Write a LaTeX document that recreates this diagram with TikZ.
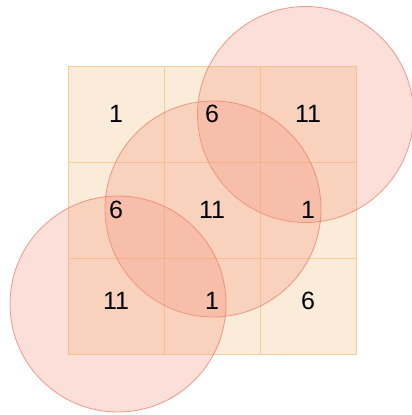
\documentclass[tikz,border=0pt]{standalone}
\usepackage{fontspec}
\setmainfont{Liberation Sans}
\usetikzlibrary{positioning}
\definecolor{gridfill}{RGB}{250, 236, 216}
\definecolor{gridline}{RGB}{246, 206, 150}
\definecolor{ringfill}{RGB}{246, 150, 128}
\definecolor{ringline}{RGB}{240, 130, 110}

\begin{document}
\begin{tikzpicture}[
    x=1pt, y=-1pt,
    cell/.style={rectangle, draw=gridline, fill=gridfill, line width=1pt, minimum size=96pt, inner sep=0pt},
    ring/.style={circle, draw=ringline, fill=ringfill, fill opacity=0.3, draw opacity=0.8, line width=0.8pt, minimum size=216pt, inner sep=0pt},
    num/.style={font=\fontsize{25}{30}\selectfont, text=black}
]
\useasboundingbox (0,0) rectangle (412,415);

% === Cuadricula 3x3 ===
\foreach \r in {1,2,3}
  \foreach \c in {1,2,3}
    \node[cell] (c\r\c) at ({68+96*(\c-1)+48}, {66+96*(\r-1)+48}) {};

% === Circulos ===
\node[ring] (rtop) at (305.5, 114.5) {};
\node[ring] (rmid) at (213, 209) {};
\node[ring] (rbot) at (118, 304) {};

% === Numeros ===
\node[num] (n11) at (c11) {1};
\node[num] (n12) at (c12) {6};
\node[num] (n13) at (c13) {11};
\node[num] (n21) at (c21) {6};
\node[num] (n22) at (c22) {11};
\node[num] (n23) at (c23) {1};
\node[num] (n31) at ([yshift=5pt]c31) {11};
\node[num] (n32) at ([yshift=5pt]c32) {1};
\node[num] (n33) at ([yshift=5pt]c33) {6};

\end{tikzpicture}
\end{document}
